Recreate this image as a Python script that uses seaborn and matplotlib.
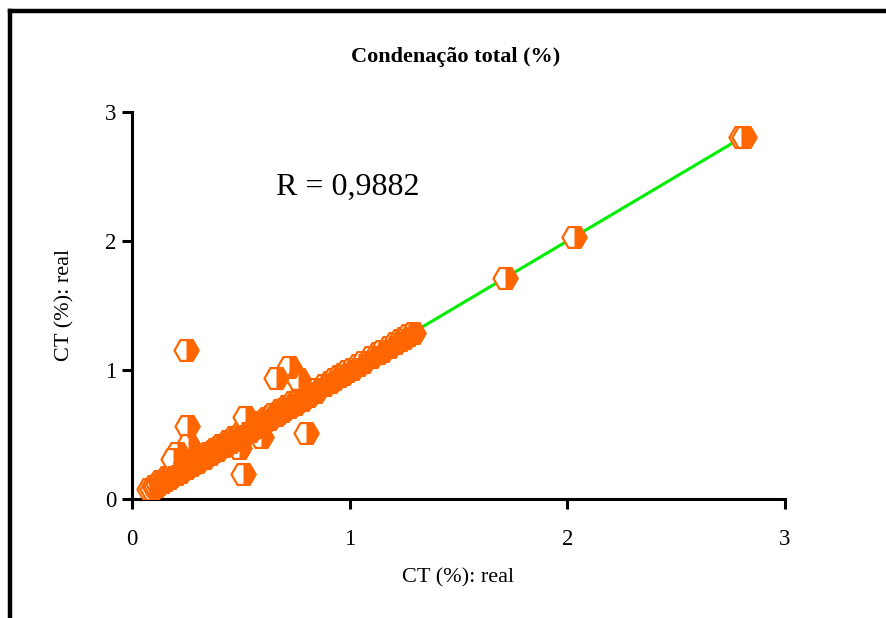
import matplotlib
matplotlib.use("Agg")
import matplotlib.pyplot as plt
from matplotlib.markers import MarkerStyle
from matplotlib.lines import Line2D
import seaborn as sns
import pandas as pd

# ---- data ----
diag_x = [0.08, 0.09, 0.10, 0.11, 0.12, 0.13, 0.14, 0.15, 0.16, 0.17, 0.18, 0.19,
          0.20, 0.21, 0.22, 0.23, 0.24, 0.25, 0.26, 0.27, 0.28, 0.29, 0.30, 0.31,
          0.32, 0.33, 0.34, 0.35, 0.36, 0.37, 0.38, 0.39, 0.40, 0.41, 0.42, 0.43,
          0.44, 0.45, 0.46, 0.47, 0.48, 0.49, 0.50, 0.51, 0.52, 0.53, 0.54, 0.55,
          0.56, 0.57, 0.58, 0.59, 0.60, 0.61, 0.62, 0.63, 0.64, 0.65, 0.66, 0.67,
          0.68, 0.69, 0.70, 0.71, 0.72, 0.73, 0.74, 0.75, 0.76, 0.77, 0.78, 0.79,
          0.80, 0.81, 0.82, 0.83, 0.84, 0.85, 0.88, 0.91, 0.93, 0.95, 0.97, 0.99,
          1.01, 1.04, 1.06, 1.10, 1.13, 1.15, 1.18, 1.21, 1.23, 1.25, 1.27, 1.29]
diag_y = [0.08, 0.08, 0.10, 0.10, 0.12, 0.14, 0.13, 0.15, 0.17, 0.16, 0.18, 0.20,
          0.19, 0.22, 0.21, 0.23, 0.25, 0.24, 0.27, 0.26, 0.28, 0.30, 0.29, 0.31,
          0.33, 0.32, 0.34, 0.36, 0.35, 0.37, 0.39, 0.38, 0.40, 0.42, 0.41, 0.43,
          0.45, 0.44, 0.46, 0.48, 0.47, 0.49, 0.51, 0.50, 0.52, 0.54, 0.53, 0.55,
          0.57, 0.56, 0.58, 0.60, 0.59, 0.61, 0.63, 0.62, 0.64, 0.66, 0.65, 0.67,
          0.69, 0.68, 0.70, 0.72, 0.71, 0.73, 0.75, 0.74, 0.76, 0.78, 0.77, 0.79,
          0.81, 0.80, 0.82, 0.84, 0.83, 0.85, 0.88, 0.91, 0.93, 0.95, 0.97, 0.99,
          1.01, 1.04, 1.06, 1.10, 1.13, 1.15, 1.18, 1.21, 1.23, 1.25, 1.27, 1.29]
outlier_x = [0.248, 0.253, 0.721, 0.661, 0.762, 0.519, 0.800, 0.510, 0.593,
             0.257, 0.207, 0.490, 0.19, 1.713, 2.030, 2.800, 2.810]
outlier_y = [1.155, 0.566, 1.023, 0.938, 0.930, 0.636, 0.512, 0.194, 0.481,
             0.419, 0.357, 0.395, 0.31, 1.710, 2.030, 2.810, 2.810]
fit_x = [0.08, 2.81]
fit_y = [0.08, 2.81]

x_ticks = [0, 1, 2, 3]
y_ticks = [0, 1, 2, 3]

title_text = "Condenação total (%)"
xlabel_text = "CT (%): real"
ylabel_text = "CT (%): real"
r_text = "R = 0,9882"

ORANGE = "#FF6600"
GREEN = "#00EE00"

df = pd.DataFrame({"x": diag_x + outlier_x, "y": diag_y + outlier_y})
fit = pd.DataFrame({"x": fit_x, "y": fit_y})

sns.set_theme(style="ticks")
plt.rcParams["font.family"] = ["Liberation Serif", "DejaVu Serif"]
plt.rcParams["axes.linewidth"] = 2.2

fig = plt.figure(figsize=(8.87, 6.18), dpi=100)
ax = fig.add_axes([132 / 887, 119 / 618, 653 / 887, 387 / 618])

sns.lineplot(data=fit, x="x", y="y", ax=ax, color=GREEN, linewidth=2.2,
             estimator=None, sort=False, zorder=2)
# white full hexagons underneath
sns.scatterplot(data=df, x="x", y="y", ax=ax, marker="H", s=300,
                facecolor="white", edgecolor=ORANGE, linewidth=1.6, zorder=3)
# orange right halves on top
sns.scatterplot(data=df, x="x", y="y", ax=ax,
                marker=MarkerStyle("H", fillstyle="right"), s=300,
                color=ORANGE, edgecolor=ORANGE, linewidth=1.6, zorder=4)

ax.set_xlim(0, 3)
ax.set_ylim(0, 3)
ax.set_xticks(x_ticks)
ax.set_yticks(y_ticks)
ax.set_xticklabels([str(t) for t in x_ticks])
ax.set_yticklabels([str(t) for t in y_ticks])
sns.despine(ax=ax)
for s in ("left", "bottom"):
    ax.spines[s].set_color("black")
    ax.spines[s].set_linewidth(2.2)
ax.tick_params(axis="both", direction="out", length=7.5, width=2.2,
               color="black", labelsize=16.5, labelcolor="black",
               bottom=True, left=True)
ax.tick_params(axis="x", pad=14)
ax.tick_params(axis="y", pad=4)
ax.grid(False)

ax.set_xlabel(xlabel_text, fontsize=16, color="black")
ax.set_ylabel(ylabel_text, fontsize=16, color="black")
ax.xaxis.set_label_coords((458 - 132) / 653, (499 - 578) / 387)
ax.yaxis.set_label_coords((65 - 132) / 653, (499 - 305) / 387)
ax.xaxis.label.set_va("center")
ax.yaxis.label.set_va("center")
ax.yaxis.label.set_ha("center")

ax.text((348 - 132) / 653, (499 - 187) / 387, r_text, transform=ax.transAxes,
        ha="center", va="center", fontsize=23, color="black")

fig.text(456 / 887, 1 - 57 / 618, title_text, ha="center", va="center",
         fontsize=16, fontweight="bold", color="black")

# outer frame (cut off at right and bottom)
fig.add_artist(Line2D([10.5 / 887, 10.5 / 887], [0, 1 - 11 / 618],
                      transform=fig.transFigure, color="black", linewidth=3.2,
                      solid_capstyle="projecting"))
fig.add_artist(Line2D([10.5 / 887, 1], [1 - 11 / 618, 1 - 11 / 618],
                      transform=fig.transFigure, color="black", linewidth=3.2,
                      solid_capstyle="projecting"))

fig.savefig("out.png", dpi=100, facecolor="white")
